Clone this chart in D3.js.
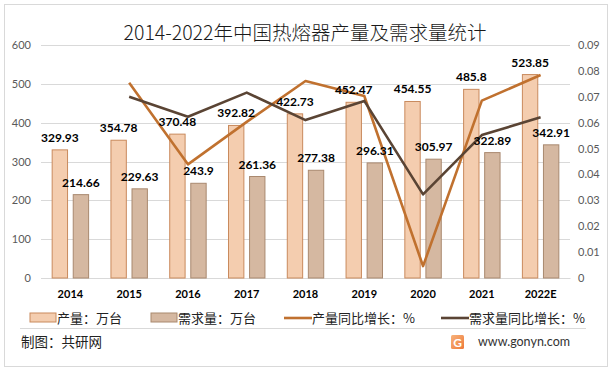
<!DOCTYPE html>
<html><head><meta charset="utf-8">
<script src="https://cdn.jsdelivr.net/npm/d3@7/dist/d3.min.js"></script>
<style>
body{margin:0;background:#fff;}
svg{display:block;}
</style></head>
<body>
<svg id="c" width="612" height="371"></svg>
<script>
const categories = ["2014","2015","2016","2017","2018","2019","2020","2021","2022E"];
const production = [329.93,354.78,370.48,392.82,422.73,452.47,454.55,485.8,523.85];
const demand = [214.66,229.63,243.9,261.36,277.38,296.31,305.97,322.89,342.91];
const prodGrowth = [null,0.0754,0.0439,0.0603,0.0761,0.0703,0.0046,0.0685,0.0784];
const demandGrowth = [null,0.0700,0.0623,0.0716,0.0610,0.0684,0.0323,0.0552,0.0621];
const leftTicks = [0,100,200,300,400,500,600];
const rightTicks = [0,0.01,0.02,0.03,0.04,0.05,0.06,0.07,0.08,0.09];

(function(){
const svg = d3.select("#c");
const pLeft=41,pRight=570,pTop=45,pBottom=278;
const cjk = "'Noto Sans CJK SC','Noto Sans',sans-serif";
const num = "Lato,'Open Sans','Liberation Sans',sans-serif";

svg.append("rect").attr("x",4.5).attr("y",4.5).attr("width",603).attr("height",362)
  .attr("fill","#fff").attr("stroke","#D9D9D9").attr("stroke-width",1);

const x0 = d3.scaleBand().domain(categories).range([pLeft,pRight]).padding(0);
const bw = x0.bandwidth();
const x1 = d3.scaleBand().domain(["p","d"]).range([bw*0.19,bw*0.81]).paddingInner(0.27);
const yL = d3.scaleLinear().domain([0,600]).range([pBottom,pTop]);
const yR = d3.scaleLinear().domain([0,0.09]).range([pBottom,pTop]);

svg.append("g").selectAll("line").data(leftTicks).join("line")
  .attr("x1",pLeft).attr("x2",pRight)
  .attr("y1",d=>Math.round(yL(d))+0.5).attr("y2",d=>Math.round(yL(d))+0.5)
  .attr("stroke","#D9D9D9").attr("stroke-width",1);

const axL = d3.axisLeft(yL).tickValues(leftTicks).tickSize(0).tickPadding(10).tickFormat(d3.format("d"));
const gL = svg.append("g").attr("transform",`translate(${pLeft},0)`).call(axL);
gL.select(".domain").remove();
gL.selectAll("text").attr("fill","#595959").style("font-family",num).style("font-size","11px");

const axR = d3.axisRight(yR).tickValues(rightTicks).tickSize(0).tickPadding(8).tickFormat(d=>d===0?"0":d3.format(".2f")(d));
const gR = svg.append("g").attr("transform",`translate(${pRight},0)`).call(axR);
gR.select(".domain").remove();
gR.selectAll("text").attr("fill","#595959").style("font-family",num).style("font-size","11px");

const axB = d3.axisBottom(x0).tickSize(0).tickPadding(12);
const gB = svg.append("g").attr("transform",`translate(0,${pBottom})`).call(axB);
gB.select(".domain").attr("stroke","#D9D9D9");
gB.selectAll("text").attr("fill","#000").style("font-family",num).style("font-size","11px").style("font-weight","bold");

const rows = categories.map((c,i)=>({c,p:production[i],d:demand[i]}));
const grp = svg.append("g").selectAll("g").data(rows).join("g")
  .attr("transform",d=>`translate(${x0(d.c)},0)`);
grp.append("rect").attr("x",x1("p")).attr("width",x1.bandwidth())
  .attr("y",d=>yL(d.p)).attr("height",d=>yL(0)-yL(d.p))
  .attr("fill","#F4CDAF").attr("stroke","#C98A5D").attr("stroke-width",1);
grp.append("rect").attr("x",x1("d")).attr("width",x1.bandwidth())
  .attr("y",d=>yL(d.d)).attr("height",d=>yL(0)-yL(d.d))
  .attr("fill","#D5B8A1").attr("stroke","#A9896F").attr("stroke-width",1);

const lineGen = d3.line().defined(d=>d.v!=null).x(d=>x0(d.c)+bw/2).y(d=>yR(d.v));
svg.append("path").datum(categories.map((c,i)=>({c,v:prodGrowth[i]})))
  .attr("d",lineGen).attr("fill","none").attr("stroke","#C0712F").attr("stroke-width",2.6).attr("stroke-linejoin","round");
svg.append("path").datum(categories.map((c,i)=>({c,v:demandGrowth[i]})))
  .attr("d",lineGen).attr("fill","none").attr("stroke","#5A4434").attr("stroke-width",2.6).attr("stroke-linejoin","round");

const lab = svg.append("g").style("font-family",num).style("font-size","12px").style("font-weight","bold").attr("fill","#000").attr("text-anchor","middle");
lab.selectAll(".lp").data(rows).join("text").attr("class","lp")
  .attr("x",d=>x0(d.c)+x1("p")+x1.bandwidth()/2).attr("y",d=>yL(d.p)-8).text(d=>d.p);
lab.selectAll(".ld").data(rows).join("text").attr("class","ld")
  .attr("x",d=>x0(d.c)+x1("d")+x1.bandwidth()/2).attr("y",d=>yL(d.d)-8).text(d=>d.d);

svg.append("text").attr("x",305).attr("y",40).attr("text-anchor","middle")
  .style("font-family",cjk).style("font-size","19.5px").style("font-weight","300").attr("fill","#1a1a1a")
  .text("2014-2022年中国热熔器产量及需求量统计");

const lg = svg.append("g").style("font-family",cjk).style("font-size","13px").attr("fill","#222");
const ly = 318;
lg.append("rect").attr("x",30).attr("y",ly-5).attr("width",26).attr("height",9).attr("fill","#F4CDAF").attr("stroke","#C98A5D");
lg.append("text").attr("x",57).attr("y",ly+4.5).text("产量：万台");
lg.append("rect").attr("x",151).attr("y",ly-5).attr("width",26).attr("height",9).attr("fill","#D5B8A1").attr("stroke","#A9896F");
lg.append("text").attr("x",178).attr("y",ly+4.5).text("需求量：万台");
lg.append("line").attr("x1",284).attr("x2",312).attr("y1",ly).attr("y2",ly).attr("stroke","#C0712F").attr("stroke-width",2.6);
lg.append("text").attr("x",312).attr("y",ly+4.5).text("产量同比增长：%");
lg.append("line").attr("x1",441).attr("x2",469).attr("y1",ly).attr("y2",ly).attr("stroke","#5A4434").attr("stroke-width",2.6);
lg.append("text").attr("x",469).attr("y",ly+4.5).text("需求量同比增长：%");

svg.append("line").attr("x1",20).attr("x2",586).attr("y1",328.5).attr("y2",328.5).attr("stroke","#D9D9D9");

svg.append("text").attr("x",21).attr("y",347).style("font-family",cjk).style("font-size","13.5px").attr("fill","#222").text("制图：共研网");
const defs = svg.append("defs");
const gr = defs.append("linearGradient").attr("id","lg1").attr("x1","0").attr("y1","0").attr("x2","1").attr("y2","1");
gr.append("stop").attr("offset","0").attr("stop-color","#F7B27A");
gr.append("stop").attr("offset","1").attr("stop-color","#EE7A3A");
svg.append("rect").attr("x",451).attr("y",335).attr("width",13).attr("height",14).attr("rx",1.5).attr("fill","url(#lg1)");
svg.append("text").attr("x",457.5).attr("y",346.5).attr("text-anchor","middle").style("font-family",num).style("font-size","12px").style("font-weight","bold").attr("fill","#fff").text("G");
svg.append("text").attr("x",478).attr("y",346).style("font-family",num).style("font-size","12.5px").attr("fill","#333").text("www.gonyn.com");
})();
</script>
</body></html>
